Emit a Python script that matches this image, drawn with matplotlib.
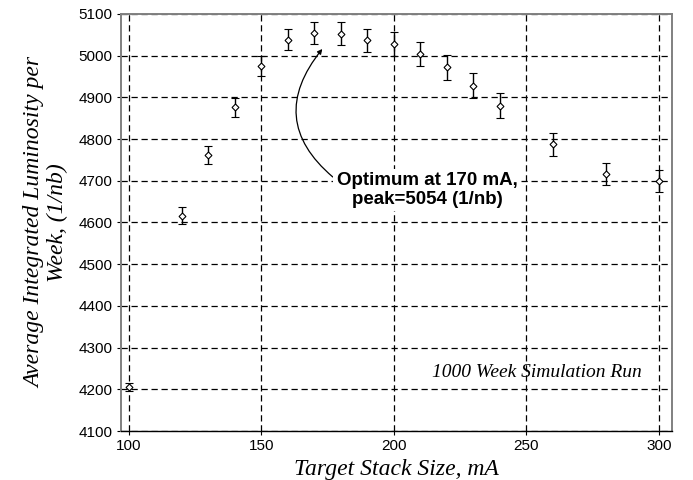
import matplotlib
matplotlib.use("Agg")
import matplotlib.pyplot as plt

stack_ma = [100, 120, 130, 140, 150, 160, 170, 180, 190, 200, 210, 220, 230, 240, 260, 280, 300]
lumi = [4205, 4616, 4762, 4876, 4975, 5038, 5054, 5053, 5037, 5027, 5003, 4972, 4928, 4880, 4787, 4716, 4700]
err = [9, 20, 22, 22, 24, 25, 27, 27, 28, 29, 29, 30, 30, 30, 28, 27, 26]
xticks = [100, 150, 200, 250, 300]
yticks = list(range(4100, 5101, 100))

fig = plt.figure(figsize=(6.93, 4.80), dpi=100)
ax = fig.add_axes([0.1746, 0.102, 0.7951, 0.869])

ax.errorbar(stack_ma, lumi, yerr=err, fmt='D', ms=3.5, mfc='white', mec='black', mew=0.8,
            ecolor='black', elinewidth=1.0, capsize=3, capthick=1.0, zorder=3)

ax.set_xlim(97, 305)
ax.set_ylim(4100, 5100)
ax.set_xticks(xticks)
ax.set_yticks(yticks)
ax.grid(True, color='black', linestyle=(0, (5, 3)), linewidth=0.9)
ax.set_axisbelow(True)

for lab in ax.get_xticklabels() + ax.get_yticklabels():
    lab.set_fontfamily('Liberation Sans')
    lab.set_fontsize(11)
ax.tick_params(length=3, width=0.8, direction='out', pad=3)

for s in ['left', 'top', 'right']:
    ax.spines[s].set_color('#808080')
    ax.spines[s].set_linewidth(1.4)
ax.spines['bottom'].set_color('black')
ax.spines['bottom'].set_linewidth(1.0)

serif = {'family': 'Liberation Serif', 'style': 'italic', 'size': 17}
ax.set_xlabel('Target Stack Size, mA', fontdict=serif, labelpad=4)
ax.set_ylabel('Average Integrated Luminosity per\nWeek, (1/nb)', fontdict=serif,
              labelpad=8, linespacing=1.05)

ax.text(254, 4240, '1000 Week Simulation Run', family='Liberation Serif', style='italic',
        fontsize=14, ha='center', va='center', zorder=4)

ax.annotate('Optimum at 170 mA,\npeak=5054 (1/nb)', xy=(173, 5016), xytext=(212.5, 4678),
            ha='center', va='center', fontsize=13.5, fontweight='bold', family='Liberation Sans',
            linespacing=1.1,
            bbox=dict(boxstyle='square,pad=0.2', fc='white', ec='none'),
            arrowprops=dict(arrowstyle='-|>', color='black', lw=0.9, mutation_scale=7,
                            connectionstyle='arc3,rad=-0.5', shrinkA=0, shrinkB=0,
                            relpos=(0.0, 0.78)),
            zorder=5)

fig.savefig('out.png', dpi=100, facecolor='white')
